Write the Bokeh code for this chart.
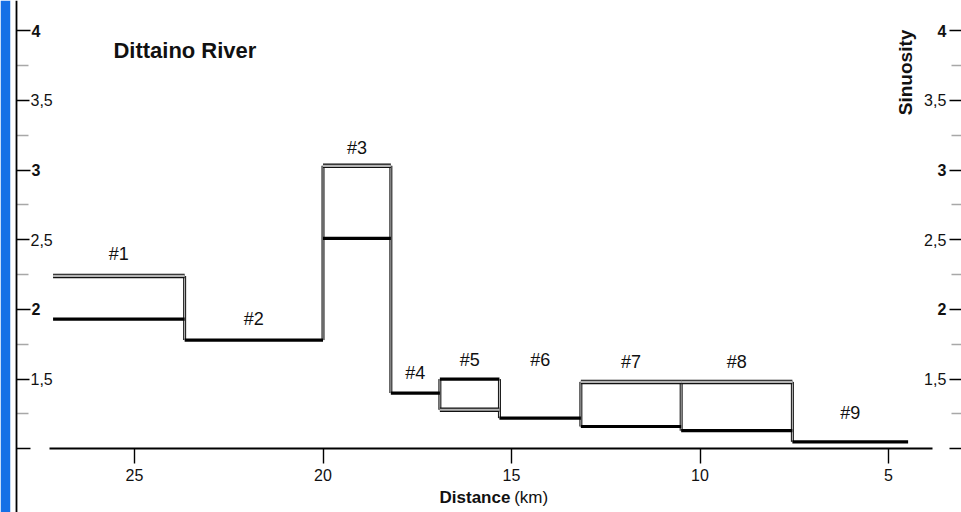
import numpy as np
from bokeh.plotting import figure
from bokeh.models import Range1d, LinearAxis, FixedTicker, CustomJSTickFormatter
from bokeh.core.properties import value
from bokeh.embed import file_html
from bokeh.resources import INLINE

# ---------------- data ----------------
reach_labels = ["#1", "#2", "#3", "#4", "#5", "#6", "#7", "#8", "#9"]
# reach boundaries along the river (km), upstream -> downstream
reach_bounds_km = [27.16, 23.67, 20.0, 18.2, 16.9, 15.32, 13.16, 10.5, 7.55, 4.48]
# sinuosity drawn as double (outlined) line; NaN where not present
sinuosity_double = [2.24, np.nan, 3.03, np.nan, 1.28, np.nan, 1.48, 1.48, np.nan]
# sinuosity drawn as thick black line
sinuosity_thick = [1.93, 1.78, 2.51, 1.40, 1.50, 1.22, 1.16, 1.13, 1.05]

x_ticks = [25, 20, 15, 10, 5]
y_ticks_int = [1, 2, 3, 4]
y_ticks_half = [1.5, 2.5, 3.5]
y_ticks_minor = [1.25, 1.75, 2.25, 2.75, 3.25, 3.75]

title_text = "Dittaino River"
y_title = "Sinuosity"
x_title_bold = "Distance"
x_title_unit = "(km)"

# label raise above the highest line of each reach (pixels)
label_raise_px = [22, 21, 18, 20, 19, 58, 20, 20, 29]

FONT = "Liberation Sans"

# ---------------- figure ----------------
p = figure(width=961, height=512, output_backend="svg", toolbar_location=None,
           title=None, tools="",
           x_range=Range1d(28.289, 3.064), y_range=Range1d(0.543, 4.216),
           x_axis_location=None, y_axis_location=None,
           min_border=0, min_border_left=10, min_border_right=0,
           min_border_top=0, min_border_bottom=0,
           border_fill_color="#1570e6", background_fill_color="white",
           outline_line_color=None)
p.grid.visible = False

bounds = np.array(reach_bounds_km, dtype=float)
x0 = bounds[:-1]
x1 = bounds[1:]
dbl = np.array(sinuosity_double, dtype=float)
thk = np.array(sinuosity_thick, dtype=float)

# vertical connectors at interior boundaries, spanning adjacent reaches' values
vx, vlo, vhi = [], [], []
for i in range(len(x0) - 1):
    vals = [v for v in (dbl[i], thk[i], dbl[i + 1], thk[i + 1]) if not np.isnan(v)]
    vx.append(x1[i])
    vlo.append(min(vals))
    vhi.append(max(vals))

p.segment(x0=vx, y0=vlo, x1=vx, y1=vhi, line_color="#111111", line_width=3)
p.segment(x0=vx, y0=vlo, x1=vx, y1=vhi, line_color="#c4c4c4", line_width=1)

m = ~np.isnan(dbl)
p.segment(x0=x0[m], y0=dbl[m], x1=x1[m], y1=dbl[m], line_color="#111111", line_width=4.5)
p.segment(x0=x0[m], y0=dbl[m], x1=x1[m], y1=dbl[m], line_color="#b4b4b4", line_width=2.2)

p.segment(x0=x0, y0=thk, x1=x1, y1=thk, line_color="#000000", line_width=3.2)

# reach labels
top = np.fmax(dbl, thk)
mid = (x0 + x1) / 2
p.text(x=mid, y=top, text=reach_labels, y_offset=[-r for r in label_raise_px],
       text_font=value(FONT), text_font_size="18px", text_color="#111111",
       text_align="center", text_baseline="middle")

# ---------------- axes ----------------
X_LEFT = 28.13   # position of inner left axis line
X_RIGHT = 3.07   # position of right axis

fmt_int = CustomJSTickFormatter(code="return tick == 1 ? '' : tick.toFixed(0)")
fmt_half = CustomJSTickFormatter(code="return tick.toFixed(1).replace('.', ',')")
fmt_none = CustomJSTickFormatter(code="return ''")


def y_axis(ticks, fmt, loc, tick_len, color, bold, line=False):
    ax = LinearAxis(ticker=FixedTicker(ticks=ticks, minor_ticks=[]), formatter=fmt,
                    fixed_location=loc,
                    major_tick_in=0, major_tick_out=tick_len,
                    major_tick_line_color=color, major_tick_line_width=1.4,
                    minor_tick_out=0, minor_tick_in=0,
                    major_label_standoff=1 if loc == X_LEFT else 3,
                    major_label_text_font=FONT, major_label_text_font_size="16px",
                    major_label_text_color="#111111",
                    major_label_text_font_style="bold" if bold else "normal",
                    axis_line_color="#000000" if line else None,
                    axis_line_width=1.8)
    return ax


# inner left axis (labels to the right of the line)
p.add_layout(y_axis(y_ticks_minor, fmt_none, X_LEFT, 12, "#a8a8a8", False), "right")
p.add_layout(y_axis(y_ticks_half, fmt_half, X_LEFT, 13, "#000000", False), "right")
p.add_layout(y_axis(y_ticks_int, fmt_int, X_LEFT, 14, "#000000", True, line=True), "right")

# right axis (labels to the left of the ticks)
p.add_layout(y_axis(y_ticks_minor, fmt_none, X_RIGHT, 10, "#a8a8a8", False), "left")
p.add_layout(y_axis(y_ticks_half, fmt_half, X_RIGHT, 12, "#000000", False), "left")
p.add_layout(y_axis(y_ticks_int, fmt_int, X_RIGHT, 12, "#000000", True), "left")

# distance axis
xax = LinearAxis(ticker=FixedTicker(ticks=x_ticks, minor_ticks=[]),
                 fixed_location=1.0, bounds=(3.83, 27.25),
                 major_tick_in=0, major_tick_out=15, major_tick_line_width=1.4,
                 minor_tick_out=0, minor_tick_in=0,
                 major_label_standoff=5,
                 major_label_text_font=FONT, major_label_text_font_size="16px",
                 major_label_text_color="#111111",
                 axis_line_color="#000000", axis_line_width=1.8)
p.add_layout(xax, "below")

# ---------------- texts ----------------
p.text(x=[25.56], y=[3.857], text=[title_text], text_font=value(FONT),
       text_font_size="22px", text_font_style="bold", text_color="#111111",
       text_align="left", text_baseline="middle")
p.text(x=[4.55], y=[3.70], text=[y_title], angle=np.pi / 2, text_font=value(FONT),
       text_font_size="19px", text_font_style="bold", text_color="#111111",
       text_align="center", text_baseline="middle")
p.text(x=[15.03], y=[0.651], text=[x_title_bold], text_font=value(FONT),
       text_font_size="17px", text_font_style="bold", text_color="#111111",
       text_align="right", text_baseline="middle")
p.text(x=[14.93], y=[0.651], text=[x_title_unit], text_font=value(FONT),
       text_font_size="17px", text_color="#111111",
       text_align="left", text_baseline="middle")

open("out.html", "w").write(file_html(p, INLINE))
